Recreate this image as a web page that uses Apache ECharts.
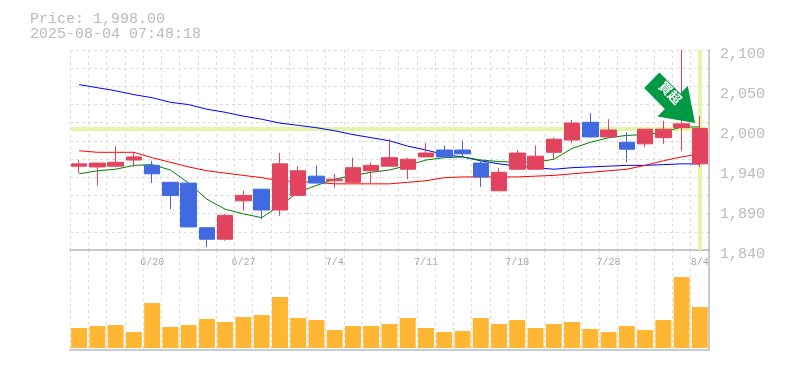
<!DOCTYPE html>
<html>
<head>
<meta charset="utf-8">
<style>html,body{margin:0;padding:0;background:#fff}#c{width:785px;height:370px}</style>
<script src="https://cdn.jsdelivr.net/npm/echarts@6/dist/echarts.min.js"></script>
</head>
<body>
<div id="c"></div>
<script>
const dates = ['6/16','6/17','6/18','6/19','6/20','6/23','6/24','6/25','6/26','6/27','6/30','7/1','7/2','7/3','7/4','7/7','7/8','7/9','7/10','7/11','7/14','7/15','7/16','7/17','7/18','7/22','7/23','7/24','7/25','7/28','7/29','7/30','7/31','8/1','8/4'];
const labeledDates = ['6/20','6/27','7/4','7/11','7/18','7/28','8/4'];
const open  = [1949,1948,1949,1957,1950,1928,1927,1869,1854,1904,1919,1892,1911,1936,1930,1928,1943,1949,1945,1961,1970,1970,1953,1917,1945,1945,1967,1983,2006,1987,1980,1978,1986,1999,1952];
const close = [1952,1953,1954,1961,1939,1911,1870,1854,1885,1911,1892,1952,1943,1927,1932,1947,1950,1960,1958,1966,1961,1965,1935,1941,1966,1962,1984,2005,1987,1996,1971,1997,1997,2004,1998];
const low   = [1940,1924,1949,1948,1927,1893,1870,1844,1852,1891,1880,1884,1911,1927,1921,1927,1926,1949,1932,1961,1961,1960,1922,1917,1944,1945,1957,1979,1986,1987,1954,1974,1978,1969,1948];
const high  = [1957,1953,1975,1967,1956,1928,1927,1869,1887,1917,1919,1966,1949,1950,1939,1960,1954,1984,1960,1979,1976,1982,1958,1947,1970,1976,1986,2009,2018,2010,1993,1997,2008,2100,2014];
const maBlue  = [2055,2051,2047,2042,2038,2032,2029,2023,2019,2014,2010,2005,2002,1999,1995,1990,1986,1982,1975,1970,1964,1961,1956,1952,1949,1947,1945,1947,1948,1949,1950,1950,1951,1952,1952];
const maRed   = [1969,1967,1967,1967,1960,1954,1948,1943,1940,1937,1934,1930,1929,1928,1926,1926,1926,1926,1928,1930,1934,1935,1935,1935,1935,1936,1937,1939,1941,1943,1945,1950,1956,1961,1965];
const maGreen = [1939,1943,1945,1950,1951,1944,1927,1906,1893,1887,1882,1898,1915,1924,1932,1937,1941,1944,1950,1957,1960,1961,1957,1955,1954,1954,1958,1972,1980,1986,1989,1990,1993,2000,2000];
const volume  = [20,22,23,16,45,21,23,29,26,31,33,51,30,28,18,22,22,24,30,20,16,17,30,24,28,20,24,26,19,16,22,18,28,71,41];
const yTickValues = [1840,1892,1944,1996,2048,2100];
const yTickLabels = ['1,840','1,890','1,940','2,000','2,050','2,100'];
const lastPrice = 1998;
const headerLines = ['Price: 1,998.00','2025-08-04 07:48:18'];
const signalText = '買超';

const gray = '#bbbbbb';
const dash = {color:'#dddddd', type:[3,3], width:1};
const mono = '"Liberation Mono", monospace';
const candles = dates.map((_, i) => [open[i], close[i], low[i], high[i]]);
const ma = (name, data, color) => ({
  name, type:'line', data, xAxisIndex:0, yAxisIndex:0, showSymbol:false, z:3, silent:true,
  lineStyle:{color, width:1}, itemStyle:{color}
});

const chart = echarts.init(document.getElementById('c'), null, {renderer:'canvas'});
chart.setOption({
  animation:false,
  backgroundColor:'#ffffff',
  title:{left:30, top:12, padding:0, text:headerLines.join('\n'),
    textStyle:{fontFamily:mono, fontSize:15, fontWeight:'normal', color:gray, lineHeight:15}},
  grid:[{left:70, top:50, width:639, height:200},{left:70, top:250, width:639, height:100}],
  xAxis:[
    {type:'category', gridIndex:0, data:dates, position:'bottom', boundaryGap:true,
      axisLine:{show:true, onZero:false, lineStyle:{color:gray, width:1.5}}, axisTick:{show:false}, axisLabel:{show:false},
      splitLine:{show:true, interval:0, lineStyle:dash}},
    {type:'category', gridIndex:1, data:dates, position:'bottom', boundaryGap:true,
      axisLine:{show:true, onZero:false, lineStyle:{color:gray, width:1.5}}, axisTick:{show:false}, axisLabel:{show:false},
      splitLine:{show:true, interval:0, lineStyle:dash}},
    {type:'category', gridIndex:1, data:dates, position:'top', boundaryGap:true,
      axisLine:{show:false}, axisTick:{show:false}, splitLine:{show:false},
      axisLabel:{show:true, inside:true, margin:7, color:'#aaaaaa', fontFamily:mono, fontSize:10,
        hideOverlap:false, interval:(i, v) => labeledDates.includes(v)}}
  ],
  yAxis:[
    {type:'value', gridIndex:0, min:1840, max:2100, position:'right',
      axisLine:{show:true, lineStyle:{color:gray, width:1.5}}, axisTick:{show:false}, splitLine:{show:false},
      axisLabel:{customValues:yTickValues, margin:11, color:gray, fontFamily:mono, fontSize:15,
        hideOverlap:false, showMinLabel:true, showMaxLabel:true,
        rich:{t:{color:gray, fontFamily:mono, fontSize:15, padding:[9,0,0,0]}},
        formatter:v => '{t|' + yTickLabels[yTickValues.indexOf(v)] + '}'}},
    {type:'value', gridIndex:0, min:0, max:11, interval:1, position:'left',
      axisLine:{show:false}, axisTick:{show:false}, axisLabel:{show:false},
      splitLine:{show:true, lineStyle:dash}},
    {type:'value', gridIndex:1, min:-2, max:98, position:'right',
      axisLine:{show:true, lineStyle:{color:gray, width:1.5}}, axisTick:{show:false}, axisLabel:{show:false}, splitLine:{show:false}}
  ],
  series:[
    {type:'line', name:'lastPrice', data:[], xAxisIndex:0, yAxisIndex:0, z:1, silent:true,
      markLine:{silent:true, symbol:'none', animation:false, z:1, label:{show:false},
        lineStyle:{color:'#e3f5a6', width:4, type:'solid'},
        data:[{yAxis:lastPrice},{xAxis:dates[dates.length-1]}]}},
    ma('long', maBlue, '#0000ff'),
    ma('mid', maRed, '#ff0000'),
    ma('short', maGreen, '#008000'),
    {type:'candlestick', name:'price', data:candles, xAxisIndex:0, yAxisIndex:0, barWidth:16, z:4, silent:true,
      itemStyle:{color:'#e2445f', color0:'#4169e1', borderColor:'#e2445f', borderColor0:'#4169e1', borderWidth:1},
      markPoint:{silent:true, z:6, animation:false,
        data:[{
          coord:[dates[33], 2038],
          symbol:'path://M660,72.7 L681,93.7 L688.3,86 L695.7,123.3 L658,116.7 L665.5,109.2 L644.7,88.3 Z',
          symbolSize:[51,50.6], symbolOffset:[-12,0], symbolKeepAspect:false,
          itemStyle:{color:'#009944'},
          label:{show:true, position:'inside', offset:[-3,-4], rotate:-45, formatter:signalText,
            color:'#ffffff', fontFamily:'"Noto Sans CJK JP"', fontWeight:'bold', fontSize:13}
        }]
      }},
    {type:'bar', name:'volume', data:volume, xAxisIndex:1, yAxisIndex:2, barWidth:16, z:2, silent:true,
      itemStyle:{color:'#ffb733'}}
  ]
});
</script>
</body>
</html>
